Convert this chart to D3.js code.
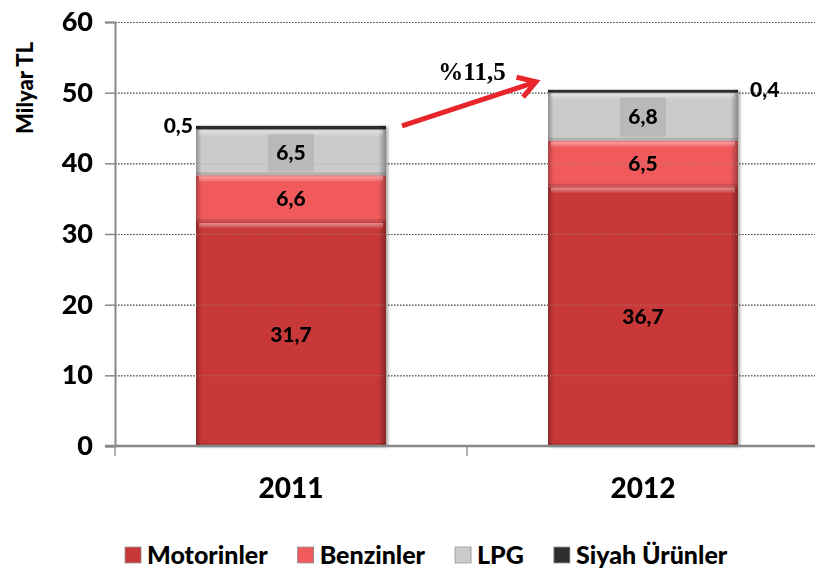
<!DOCTYPE html>
<html>
<head>
<meta charset="utf-8">
<script src="https://cdn.jsdelivr.net/npm/d3@7"></script>
<style>
body { margin: 0; background: #fff; }
svg { display: block; }
text { font-family: Lato, "Open Sans", sans-serif; font-weight: 900; fill: #000; }
text.serif { font-family: "Liberation Serif", "DejaVu Serif", serif; font-weight: bold; }
</style>
</head>
<body>
<svg id="chart" width="815" height="569"></svg>
<script>
var years = ["2011", "2012"];//categories
var seriesNames = ["Motorinler", "Benzinler", "LPG", "Siyah Ürünler"];
var motorinler = [31.7, 36.7];//billion TL
var benzinler = [6.6, 6.5];
var lpg = [6.5, 6.8];
var siyah = [0.5, 0.4];
var yTicks = [0, 10, 20, 30, 40, 50, 60];
var growthLabel = "%11,5";//change of total 2011 -> 2012

var colors = ["#c83838", "#f05a5c", "#cbcbcb", "#2e2e2e"];

var svg = d3.select("#chart");
var margin = {top: 22, left: 115, right: -4, bottom: 123};
var width = 815 - margin.left - margin.right;
var height = 569 - margin.top - margin.bottom;

//rows for the stack, built from the arrays above
var rows = years.map(function(y, i) {
	return {year: y, "Motorinler": motorinler[i], "Benzinler": benzinler[i], "LPG": lpg[i], "Siyah Ürünler": siyah[i]};
});
var stacked = d3.stack().keys(seriesNames)(rows);

var x = d3.scaleBand()
.domain(years)
.range([margin.left, margin.left + width]);

var y = d3.scaleLinear()
.domain([0, 60])
.range([margin.top + height, margin.top]);

var barW = 190;
function barX(d) { return x(d) + (x.bandwidth() - barW) / 2; }

//gradients for the bevel look
var defs = svg.append("defs");
var side = defs.append("linearGradient").attr("id", "sideShade").attr("x1", 0).attr("x2", 1).attr("y1", 0).attr("y2", 0);
side.append("stop").attr("offset", "0%").attr("stop-color", "#000").attr("stop-opacity", 0.28);
side.append("stop").attr("offset", "3%").attr("stop-color", "#000").attr("stop-opacity", 0);
side.append("stop").attr("offset", "96%").attr("stop-color", "#000").attr("stop-opacity", 0);
side.append("stop").attr("offset", "100%").attr("stop-color", "#000").attr("stop-opacity", 0.32);
var topHi = defs.append("linearGradient").attr("id", "topHi").attr("x1", 0).attr("x2", 0).attr("y1", 0).attr("y2", 1);
topHi.append("stop").attr("offset", "0%").attr("stop-color", "#fff").attr("stop-opacity", 0.45);
topHi.append("stop").attr("offset", "100%").attr("stop-color", "#fff").attr("stop-opacity", 0);
var shadow = defs.append("filter").attr("id", "shadow").attr("x", "-5%").attr("y", "-5%").attr("width", "115%").attr("height", "115%");
shadow.append("feDropShadow").attr("dx", 2).attr("dy", 1).attr("stdDeviation", 1.5).attr("flood-opacity", 0.35);

//gridlines under bars
svg.append("g")
.selectAll("line")
.data(yTicks.slice(1))
.enter().append("line")
.attr("x1", margin.left)
.attr("x2", 815)
.attr("y1", function(d) { return y(d) + 0.5; })
.attr("y2", function(d) { return y(d) + 0.5; })
.attr("stroke", "#000")
.attr("stroke-width", 1)
.attr("stroke-dasharray", "1.5,1.5");

//bars
var bars = svg.append("g").attr("filter", "url(#shadow)");
stacked.forEach(function(s, k) {
	var seg = bars.append("g").selectAll("g")
	.data(s)
	.enter().append("g");
	seg.append("rect")
	.attr("x", function(d) { return barX(d.data.year); })
	.attr("y", function(d) { return y(d[1]); })
	.attr("width", barW)
	.attr("height", function(d) { return y(d[0]) - y(d[1]); })
	.attr("fill", colors[k]);
	seg.append("rect")
	.attr("x", function(d) { return barX(d.data.year); })
	.attr("y", function(d) { return y(d[1]); })
	.attr("width", barW)
	.attr("height", function(d) { return y(d[0]) - y(d[1]); })
	.attr("fill", "url(#sideShade)");
	if (k < 3) {
		seg.append("rect")
		.attr("x", function(d) { return barX(d.data.year) + 3; })
		.attr("y", function(d) { return y(d[1]) + 1; })
		.attr("width", barW - 6)
		.attr("height", 6)
		.attr("fill", "url(#topHi)");
		seg.append("rect")
		.attr("x", function(d) { return barX(d.data.year); })
		.attr("y", function(d) { return y(d[0]) - 3; })
		.attr("width", barW)
		.attr("height", 3)
		.attr("fill", "#000")
		.attr("opacity", 0.12);
	}
});

//faint gridlines running over the bars
svg.append("g")
.selectAll("line")
.data(yTicks.slice(1))
.enter().append("line")
.attr("x1", margin.left)
.attr("x2", 815)
.attr("y1", function(d) { return y(d) + 0.5; })
.attr("y2", function(d) { return y(d) + 0.5; })
.attr("stroke", "#999")
.attr("stroke-opacity", 0.55)
.attr("stroke-dasharray", "1.5,1.5");

//axes
var yAxis = svg.append("g")
.attr("transform", "translate(" + margin.left + ",0)")
.call(d3.axisLeft(y).tickValues(yTicks).tickSize(10).tickPadding(12));
yAxis.select(".domain").attr("stroke", "#888").attr("stroke-width", 2);
yAxis.selectAll(".tick line").attr("stroke", "#888").attr("stroke-width", 1.5);
yAxis.selectAll(".tick text").attr("font-size", 27).attr("fill", "#000");

var xAxis = svg.append("g")
.attr("transform", "translate(0," + (margin.top + height) + ")");
xAxis.append("line")
.attr("x1", margin.left - 10)
.attr("x2", 815)
.attr("stroke", "#888")
.attr("stroke-width", 2.5);
xAxis.selectAll(".sep")
.data(years)
.enter().append("line")
.attr("class", "sep")
.attr("x1", function(d) { return x(d) + x.bandwidth(); })
.attr("x2", function(d) { return x(d) + x.bandwidth(); })
.attr("y1", 0)
.attr("y2", 10)
.attr("stroke", "#999")
.attr("stroke-width", 1.5);
xAxis.append("line")
.attr("x1", margin.left).attr("x2", margin.left)
.attr("y1", 0).attr("y2", 10)
.attr("stroke", "#999").attr("stroke-width", 1.5);
xAxis.selectAll(".cat")
.data(years)
.enter().append("text")
.attr("class", "cat")
.attr("x", function(d) { return x(d) + x.bandwidth() / 2; })
.attr("y", 52)
.attr("text-anchor", "middle")
.attr("font-size", 28)
.text(function(d) { return d; });

svg.append("text")
.attr("transform", "translate(33," + 88 + ") rotate(-90)")
.attr("text-anchor", "middle")
.attr("font-size", 22)
.text("Milyar TL");

//value labels
var fmt = function(v) { return String(v).replace(".", ","); };
[0, 1].forEach(function(k) {
	var vals = k == 0 ? motorinler : benzinler;
	svg.append("g").selectAll("text")
	.data(stacked[k])
	.enter().append("text")
	.attr("x", function(d) { return barX(d.data.year) + barW / 2; })
	.attr("y", function(d) { return (y(d[0]) + y(d[1])) / 2; })
	.attr("dy", "0.36em")
	.attr("text-anchor", "middle")
	.attr("font-size", 21)
	.text(function(d, i) { return fmt(vals[i]); });
});

//LPG labels sit on a darker box
var lpgLab = svg.append("g").selectAll("g")
.data(stacked[2])
.enter().append("g");
lpgLab.append("rect")
.attr("x", function(d) { return barX(d.data.year) + barW / 2 - 23; })
.attr("y", function(d) { return y(d[1]) + 5; })
.attr("width", 46)
.attr("height", function(d) { return y(d[0]) - y(d[1]) - 9; })
.attr("fill", "#b9b9b9");
lpgLab.append("text")
.attr("x", function(d) { return barX(d.data.year) + barW / 2; })
.attr("y", function(d) { return (y(d[0]) + y(d[1])) / 2; })
.attr("dy", "0.36em")
.attr("text-anchor", "middle")
.attr("font-size", 21)
.text(function(d, i) { return fmt(lpg[i]); });

//siyah urunler labels outside the bar top
svg.append("g").selectAll("text")
.data(stacked[3])
.enter().append("text")
.attr("x", function(d, i) { return i == 0 ? barX(d.data.year) - 3 : barX(d.data.year) + barW + 12; })
.attr("y", function(d) { return y(d[1]); })
.attr("dy", "0.36em")
.attr("text-anchor", function(d, i) { return i == 0 ? "end" : "start"; })
.attr("font-size", 21)
.text(function(d, i) { return fmt(siyah[i]); });

//growth arrow
var t0 = stacked[3][0][1], t1 = stacked[3][1][1];
var ax0 = barX(years[0]) + barW + 16, ay0 = y(t0) + 0;
var ax1 = barX(years[1]) - 12, ay1 = y(t1) - 8;
var ang = Math.atan2(ay1 - ay0, ax1 - ax0);
var arrow = svg.append("g").attr("stroke", "#e8252a").attr("stroke-width", 5).attr("fill", "none").attr("stroke-linecap", "butt");
arrow.append("line")
.attr("x1", ax0).attr("y1", ay0)
.attr("x2", ax1 - 3 * Math.cos(ang)).attr("y2", ay1 - 3 * Math.sin(ang));
arrow.append("path")
.attr("stroke-linejoin", "miter")
.attr("d", "M" + (ax1 - 20 * Math.cos(ang - 0.55)) + "," + (ay1 - 20 * Math.sin(ang - 0.55))
	+ "L" + ax1 + "," + ay1
	+ "L" + (ax1 - 20 * Math.cos(ang + 0.55)) + "," + (ay1 - 20 * Math.sin(ang + 0.55)));

svg.append("text")
.attr("class", "serif")
.attr("x", 472)
.attr("y", 80)
.attr("text-anchor", "middle")
.attr("font-size", 25)
.text(growthLabel);

//legend
var legend = svg.append("g").attr("transform", "translate(0,555)");
var lx = 125;
seriesNames.forEach(function(name, i) {
	var item = legend.append("g").attr("transform", "translate(" + lx + ",0)");
	item.append("rect")
	.attr("x", 0).attr("y", -8)
	.attr("width", 16).attr("height", 16)
	.attr("fill", colors[i])
	.attr("stroke", "#999").attr("stroke-width", 0.8);
	item.append("rect")
	.attr("x", 0).attr("y", -8)
	.attr("width", 16).attr("height", 16)
	.attr("fill", "url(#sideShade)");
	var t = item.append("text")
	.attr("x", 22)
	.attr("dy", "0.36em")
	.attr("font-size", 25)
	.text(name);
	lx += 22 + t.node().getComputedTextLength() + 30;
});
</script>
</body>
</html>
